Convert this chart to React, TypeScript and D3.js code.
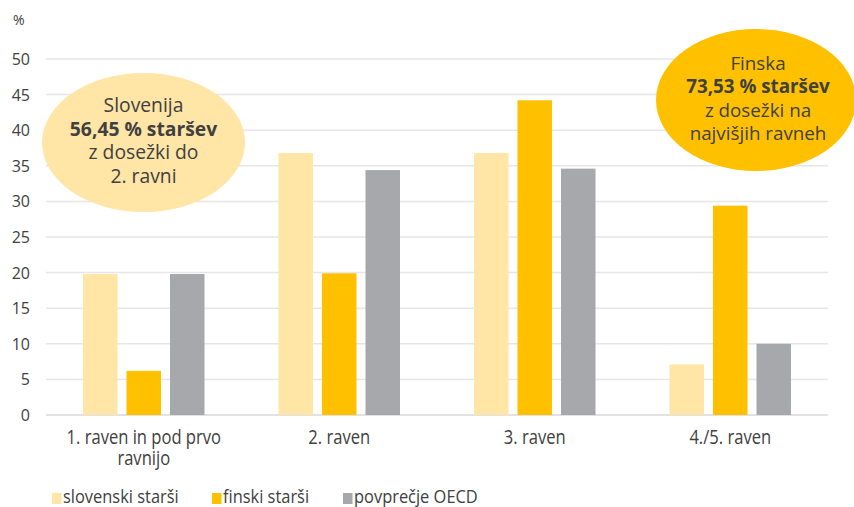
import React from "react";
import * as d3 from "d3";

const categories = ["1. raven in pod prvo|ravnijo", "2. raven", "3. raven", "4./5. raven"];
const seriesNames = ["slovenski starši", "finski starši", "povprečje OECD"];
const slovenian = [19.8, 36.8, 36.8, 7.1];
const finnish = [6.2, 19.9, 44.2, 29.4];
const oecd = [19.8, 34.4, 34.6, 10.0];
const yTicks = [0, 5, 10, 15, 20, 25, 30, 35, 40, 45, 50];
const colors = ["#FFE5A6", "#FFC000", "#A7A8AB"];

const W = 854, H = 507;
const left = 46, right = 828, top = 59, bottom = 415;
const font = "'Open Sans', sans-serif";
const textColor = "#404040";

export default function App() {
  const series = [slovenian, finnish, oecd];
  const x0 = d3.scaleBand().domain(categories).range([left, right]).paddingInner(0).paddingOuter(0);
  const y = d3.scaleLinear().domain([0, 50]).range([bottom, top]);
  const barW = 34.5;
  const step = 43.5;
  const legendX = [52, 212, 343];
  return (
    <svg width={W} height={H} style={{ position: "absolute", left: 0, top: 0 }} fontFamily={font}>
      <rect width={W} height={H} fill="#fff" />
      <text x={13} y={25} fontSize={14} fill={textColor}>%</text>
      {yTicks.map((t) => (
        <g key={t}>
          <line x1={left} x2={right} y1={y(t)} y2={y(t)} stroke={t === 0 ? "#D9D9D9" : "#E6E6E6"} strokeWidth={1.5} />
          <text x={30} y={y(t) + 6} textAnchor="end" fontSize={16} fill={textColor}>{t}</text>
        </g>
      ))}
      {categories.map((c, i) => {
        const cx = (x0(c) as number) + x0.bandwidth() / 2;
        return (
          <g key={c}>
            {series.map((s, j) => {
              const bx = cx + (j - 1) * step - barW / 2;
              return (
                <rect key={j} x={bx} y={y(s[i])} width={barW} height={y(0) - y(s[i])} fill={colors[j]} />
              );
            })}
            {c.split("|").map((ln, k) => (
              <text key={k} transform={`translate(${cx},${444 + k * 21}) scale(0.85,1)`} textAnchor="middle" fontSize={19.5} fill={textColor}>{ln}</text>
            ))}
          </g>
        );
      })}
      {seriesNames.map((n, j) => {
        const lx = legendX[j];
        return (
          <g key={n}>
            <rect x={lx} y={493} width={9.5} height={11} fill={colors[j]} />
            <text transform={`translate(${lx + 11},503) scale(0.95,1)`} fontSize={17.3} fill={textColor}>{n}</text>
          </g>
        );
      })}
      <ellipse cx={143.5} cy={142.5} rx={101.5} ry={69.5} fill="#FFE5A6" />
      <g fontSize={19.3} fill={textColor} textAnchor="middle">
        <text x={143.5} y={112}>Slovenija</text>
        <text x={143.5} y={136} fontWeight="bold">56,45 % staršev</text>
        <text x={143.5} y={159}>z dosežki do</text>
        <text x={143.5} y={183}>2. ravni</text>
      </g>
      <ellipse cx={756} cy={100} rx={100} ry={71} fill="#FFC000" />
      <g fontSize={18.8} fill={textColor} textAnchor="middle">
        <text x={758} y={70}>Finska</text>
        <text x={758} y={93} fontWeight="bold">73,53 % staršev</text>
        <text x={758} y={117}>z dosežki na</text>
        <text x={758} y={140}>najvišjih ravneh</text>
      </g>
    </svg>
  );
}
